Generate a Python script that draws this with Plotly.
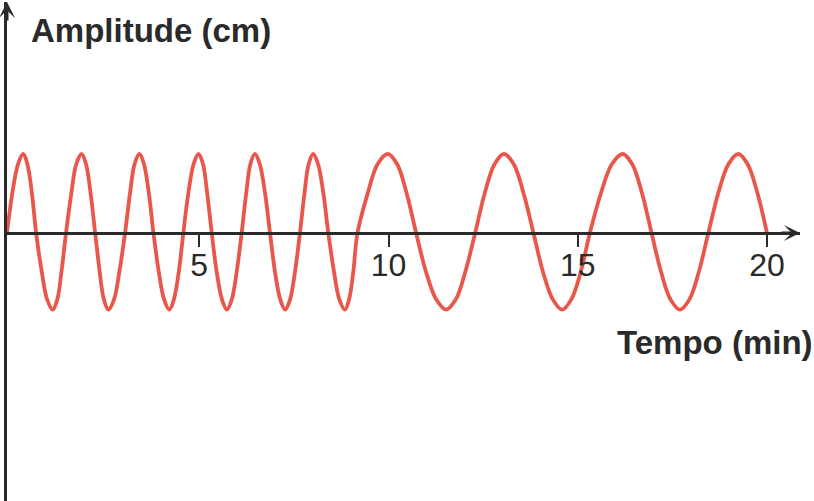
import plotly.graph_objects as go

# Onda: tempo (min) e amplitude, um período por linha
# (zero, 1/3 e 2/3 de cada quarto de onda, pico/vale)
tempo = [
    -0.08, 0.06, 0.21, 0.35, 0.46, 0.58, 0.69, 0.84, 0.98, 1.13, 1.25, 1.36,
    1.48, 1.62, 1.75, 1.89, 2.01, 2.13, 2.25, 2.37, 2.48, 2.60, 2.75, 2.89,
    3.04, 3.17, 3.29, 3.42, 3.54, 3.67, 3.79, 3.93, 4.07, 4.21, 4.33, 4.46,
    4.58, 4.71, 4.85, 4.98, 5.10, 5.21, 5.33, 5.46, 5.60, 5.73, 5.86, 5.99,
    6.12, 6.24, 6.35, 6.47, 6.60, 6.74, 6.87, 7.00, 7.14, 7.27, 7.40, 7.53,
    7.66, 7.78, 7.89, 8.01, 8.14, 8.28, 8.41, 8.56, 8.70, 8.85, 8.96, 9.07,
    9.18, 9.45, 9.71, 9.98, 10.23, 10.48, 10.73, 10.99, 11.26, 11.52, 11.78, 12.03,
    12.29, 12.54, 12.80, 13.05, 13.31, 13.57, 13.83, 14.08, 14.34, 14.59, 14.83, 15.08,
    15.32, 15.61, 15.90, 16.19, 16.44, 16.70, 16.95, 17.20, 17.45, 17.70, 17.95, 18.20,
    18.45, 18.71, 18.98, 19.24, 19.49, 19.75, 20.00,
]
amplitude = [
    0, 0.5, 0.87, 1, 0.87, 0.5, 0, -0.49, -0.84, -0.97, -0.84, -0.49,
    0, 0.5, 0.87, 1, 0.87, 0.5, 0, -0.49, -0.84, -0.97, -0.84, -0.49,
    0, 0.5, 0.87, 1, 0.87, 0.5, 0, -0.49, -0.84, -0.97, -0.84, -0.49,
    0, 0.5, 0.87, 1, 0.87, 0.5, 0, -0.49, -0.84, -0.97, -0.84, -0.49,
    0, 0.5, 0.87, 1, 0.87, 0.5, 0, -0.49, -0.84, -0.97, -0.84, -0.49,
    0, 0.5, 0.87, 1, 0.87, 0.5, 0, -0.49, -0.84, -0.97, -0.84, -0.49,
    0, 0.5, 0.87, 1, 0.87, 0.5, 0, -0.49, -0.84, -0.97, -0.84, -0.49,
    0, 0.5, 0.87, 1, 0.87, 0.5, 0, -0.49, -0.84, -0.97, -0.84, -0.49,
    0, 0.5, 0.87, 1, 0.87, 0.5, 0, -0.49, -0.84, -0.97, -0.84, -0.49,
    0, 0.5, 0.87, 1, 0.87, 0.5, 0,
]

x_ticks = [5, 10, 15, 20]
x_labels = ["5", "10", "15", "20"]

W, H = 814, 501
ml, mr, mt, mb = 7, 14, 2, 0
x0_px, px_per_min = 10, 37.85     # pixel of t=0 and scale
y0_px, px_per_amp = 233, 79       # pixel of amplitude 0 and scale

axis_col = "#2a2a2a"
wave_col = "#e9574b"

x_range = [(ml - x0_px) / px_per_min, (W - mr - x0_px) / px_per_min]
y_range = [(y0_px - (H - mb)) / px_per_amp, (y0_px - mt) / px_per_amp]
axis_pos = (H - mb - y0_px) / (H - mt - mb)

fig = go.Figure()
fig.add_trace(go.Scatter(
    x=tempo, y=amplitude, mode="lines",
    line=dict(color=wave_col, width=3.8, shape="spline", smoothing=1),
    hoverinfo="skip", showlegend=False,
))

fig.update_layout(
    width=W, height=H,
    margin=dict(l=ml, r=mr, t=mt, b=mb),
    paper_bgcolor="white", plot_bgcolor="white",
    font=dict(family="Liberation Sans, Arial, sans-serif", color=axis_col),
    xaxis=dict(
        range=x_range, anchor="free", position=axis_pos,
        showgrid=False, zeroline=False,
        showline=True, linecolor=axis_col, linewidth=3,
        ticks="outside", ticklen=12, tickwidth=1.5, tickcolor=axis_col,
        tickvals=x_ticks, ticktext=x_labels,
        tickfont=dict(size=32, color=axis_col),
        ticklabelstandoff=-9,
    ),
    yaxis=dict(
        range=y_range, showgrid=False, zeroline=False,
        showline=True, linecolor=axis_col, linewidth=3,
        showticklabels=False, ticks="",
    ),
)

# arrow heads on both axes
fig.add_annotation(x=1, y=axis_pos, xref="paper", yref="paper", text="",
                   showarrow=True, arrowhead=3, arrowsize=0.9, arrowwidth=3,
                   arrowcolor=axis_col, ax=-20, ay=0, standoff=0)
fig.add_annotation(x=0, y=1, xref="paper", yref="paper", text="",
                   showarrow=True, arrowhead=3, arrowsize=0.9, arrowwidth=3,
                   arrowcolor=axis_col, ax=0, ay=20, standoff=0)

# axis titles
fig.add_annotation(x=(29 - ml) / (W - ml - mr), y=(H - 31) / (H - mt),
                   xref="paper", yref="paper", xanchor="left", yanchor="middle",
                   text="<b>Amplitude (cm)</b>", showarrow=False,
                   font=dict(size=33, color=axis_col))
fig.add_annotation(x=(815 - ml) / (W - ml - mr), y=(H - 342) / (H - mt),
                   xref="paper", yref="paper", xanchor="right", yanchor="middle",
                   text="<b>Tempo (min)</b>", showarrow=False,
                   font=dict(size=33, color=axis_col))

# page body has an 8px default margin; drop it so the figure sits at 0,0
fig.write_html("out.html", config={"displayModeBar": False},
               post_script="document.body.style.margin='0';")
